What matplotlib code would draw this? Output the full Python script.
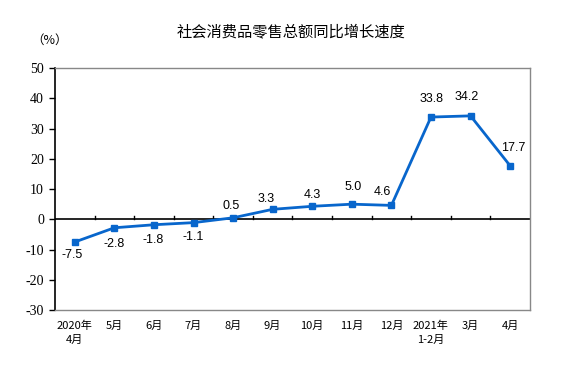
import matplotlib
matplotlib.use("Agg")
import matplotlib.pyplot as plt
import numpy as np

months = ["2020年\n4月", "5月", "6月", "7月", "8月", "9月", "10月",
          "11月", "12月", "2021年\n1-2月", "3月", "4月"]
growth = [-7.5, -2.8, -1.8, -1.1, 0.5, 3.3, 4.3, 5.0, 4.6, 33.8, 34.2, 17.7]
# label offsets in pixels (dx, dy) relative to each point
label_offsets = [(-3, -13), (0, -16), (-1, -15), (0, -14), (-2, 12), (-7, 10),
                 (0, 11), (1, 17), (-9, 13), (1, 18), (-4, 19), (3, 18)]
y_ticks = [-30, -20, -10, 0, 10, 20, 30, 40, 50]

cjk = ["Noto Sans CJK SC", "DejaVu Sans"]
blue = "#0866CC"

fig = plt.figure(figsize=(5.82, 3.74), dpi=100)
ax = fig.add_axes([0.0945, 0.171, 0.816, 0.647])

x = np.arange(len(months))
ax.plot(x, growth, color=blue, lw=2, marker="s", markersize=5,
        markeredgecolor=blue, markerfacecolor=blue, zorder=3)

for xi, val, (dx, dy) in zip(x, growth, label_offsets):
    ax.annotate(f"{val:.1f}", (xi, val), xytext=(dx, dy),
                textcoords="offset pixels", ha="center", va="center",
                fontsize=9, family="Liberation Sans", color="black")

ax.set_xlim(-0.5, len(months) - 0.5)
ax.set_ylim(-30, 50)
ax.set_yticks(y_ticks)
ax.set_yticklabels([str(v) for v in y_ticks], family="Liberation Serif",
                   fontsize=10)
ax.tick_params(axis="y", direction="out", length=4, width=1, pad=4)

# category labels below the plot, boundary ticks on the zero line
ax.set_xticks([])
for xi, lab in zip(x, months):
    ax.text(xi, -33.5, lab, ha="center", va="top", fontsize=8,
            family=cjk, linespacing=1.45)
for b in np.arange(0.5, len(months) - 0.5, 1.0):
    ax.plot([b, b], [0, 1.1], color="black", lw=1, zorder=2)
ax.axhline(0, color="black", lw=1.2, zorder=2)

for side in ["top", "right", "bottom"]:
    ax.spines[side].set_color("#888888")
    ax.spines[side].set_linewidth(1)
ax.spines["left"].set_color("black")
ax.spines["left"].set_linewidth(1.2)

fig.text(0.5, 0.915, "社会消费品零售总额同比增长速度", ha="center",
         va="center", fontsize=11, family=cjk)
fig.text(0.085, 0.892, "（%）", ha="center", va="center", fontsize=9,
         family=cjk)

fig.savefig("out.png", dpi=100)
